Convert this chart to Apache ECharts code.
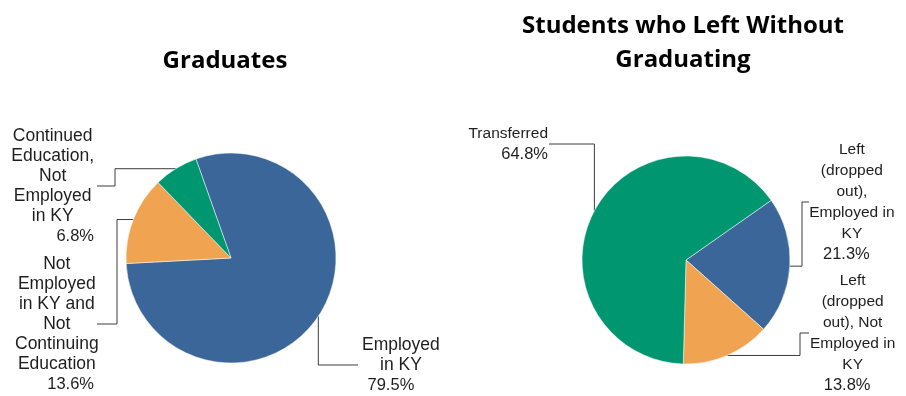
<!DOCTYPE html>
<html>
<head>
<meta charset="utf-8">
<script src="https://cdn.jsdelivr.net/npm/echarts@6/dist/echarts.min.js"></script>
<style>
  html, body { margin: 0; padding: 0; background: #ffffff; }
  #chart { width: 906px; height: 396px; }
</style>
</head>
<body>
<div id="chart"></div>
<script>
// ---- data ----
const titles = ['Graduates', 'Students who Left Without\nGraduating'];

const gradCategories = [
  'Employed\nin KY',
  'Not\nEmployed\nin KY and\nNot\nContinuing\nEducation',
  'Continued\nEducation,\nNot\nEmployed\nin KY'
];
const gradValues = [79.5, 13.6, 6.8];

const leftCategories = [
  'Left\n(dropped\nout),\nEmployed in\nKY',
  'Left\n(dropped\nout), Not\nEmployed in\nKY',
  'Transferred'
];
const leftValues = [21.3, 13.8, 64.8];

// ---- styling ----
const BLUE = '#3a6699';
const ORANGE = '#f0a452';
const GREEN = '#009670';
const gradColors = [BLUE, ORANGE, GREEN];
const leftColors = [BLUE, ORANGE, GREEN];

const SANS = "'Liberation Sans', Arial, sans-serif";
const TEXT = '#1e1e1e';
const LINE = '#3c3c3c';
const BIG = 17.5;   // category text of the graduates pie
const MID = 15.5;   // category text of the second pie
const PCT = 16.5;   // percentages

// label placement: where each label block sits and how its leader line bends
// route 'hvh': horizontal to elbowX, vertical to label y, horizontal to endX
// route 'vh' : vertical to label y, horizontal to endX
const gradPlacement = [
  { x: 362, y: 365, align: 'left',  route: 'vh',  endX: 358 },
  { x: 94,  y: 324, align: 'right', route: 'hvh', elbowX: 117, endX: 97 },
  { x: 94,  y: 186, align: 'right', route: 'hvh', elbowX: 115, endX: 97 }
];
const leftPlacement = [
  { x: 816, y: 202, align: 'left',  route: 'hvh', elbowX: 802, endX: 809 },
  { x: 810, y: 333, align: 'left',  route: 'hvh', elbowX: 800, endX: 809 },
  { x: 548, y: 144, align: 'right', route: 'vh',  endX: 549 }
];

function edgePoint(center, radius, values, startAngle, idx) {
  // mid-angle of slice idx on the outer rim (clockwise from startAngle)
  const total = values.reduce((a, b) => a + b, 0);
  let acc = 0;
  for (let i = 0; i < idx; i++) acc += values[i];
  const mid = startAngle - (acc + values[idx] / 2) / total * 360;
  const r = mid * Math.PI / 180;
  return [center[0] + radius * Math.cos(r), center[1] - radius * Math.sin(r)];
}

function makeLayout(placement, center, radius, values, startAngle) {
  return function (p) {
    const s = placement[p.dataIndex];
    const start = (p.labelLinePoints && p.labelLinePoints[0]) ||
      edgePoint(center, radius, values, startAngle, p.dataIndex);
    let pts;
    if (s.route === 'hvh') {
      pts = [start, [s.elbowX, start[1]], [s.elbowX, s.y], [s.endX, s.y]];
    } else {
      pts = [start, [start[0], s.y], [s.endX, s.y]];
    }
    return {
      x: s.x, y: s.y,
      align: s.align, verticalAlign: 'middle',
      labelLinePoints: pts
    };
  };
}

function richFor(catSize, lh) {
  return {
    c: { fontFamily: SANS, fontSize: catSize, lineHeight: lh, color: TEXT, align: 'center' },
    r: { fontFamily: SANS, fontSize: PCT, lineHeight: lh, color: TEXT, align: 'right' },
    m: { fontFamily: SANS, fontSize: PCT, lineHeight: lh, color: TEXT, align: 'center', padding: [0, 20, 0, 0] },
    n: { fontFamily: SANS, fontSize: PCT, lineHeight: lh, color: TEXT, align: 'center', padding: [0, 11, 0, 0] }
  };
}

function buildData(names, values, colors) {
  return names.map((n, i) => ({ name: n, value: values[i], itemStyle: { color: colors[i] } }));
}

const gradCenter = [231, 258], gradRadius = 105, gradStart = 109.5;
const leftCenter = [686, 260], leftRadius = 104, leftStart = 35;

const titleStyle = {
  fontFamily: "'Open Sans', sans-serif", fontWeight: 'bold',
  fontSize: 24, lineHeight: 34, color: '#000'
};

const chart = echarts.init(document.getElementById('chart'), null, { renderer: 'canvas' });

chart.setOption({
  backgroundColor: '#ffffff',
  animation: false,
  title: [
    { text: titles[0], left: 220, top: 39, textAlign: 'center', textStyle: titleStyle },
    { text: titles[1], left: 678, top: 4, textAlign: 'center', textStyle: titleStyle }
  ],
  series: [
    {
      type: 'pie',
      center: gradCenter,
      radius: gradRadius,
      startAngle: gradStart,
      clockwise: true,
      data: buildData(gradCategories, gradValues, gradColors),
      itemStyle: { borderColor: '#ffffff', borderWidth: 0.5 },
      label: {
        show: true, position: 'outside', overflow: 'none',
        formatter: function (p) {
          const lines = p.name.split('\n').map(l => '{c|' + l + '}').join('\n');
          const tag = p.dataIndex === 0 ? 'm' : 'r';
          return lines + '\n{' + tag + '|' + p.value.toFixed(1) + '%}';
        },
        rich: richFor(BIG, 20)
      },
      labelLine: { show: true, lineStyle: { color: LINE, width: 1 } },
      labelLayout: makeLayout(gradPlacement, gradCenter, gradRadius, gradValues, gradStart),
      emphasis: { disabled: true }
    },
    {
      type: 'pie',
      center: leftCenter,
      radius: leftRadius,
      startAngle: leftStart,
      clockwise: true,
      data: buildData(leftCategories, leftValues, leftColors),
      itemStyle: { borderColor: '#ffffff', borderWidth: 0.5 },
      label: {
        show: true, position: 'outside', overflow: 'none',
        formatter: function (p) {
          const lines = p.name.split('\n').map(l => '{c|' + l + '}').join('\n');
          const tag = p.dataIndex === 2 ? 'r' : 'n';
          return lines + '\n{' + tag + '|' + p.value.toFixed(1) + '%}';
        },
        rich: richFor(MID, 21)
      },
      labelLine: { show: true, lineStyle: { color: LINE, width: 1 } },
      labelLayout: makeLayout(leftPlacement, leftCenter, leftRadius, leftValues, leftStart),
      emphasis: { disabled: true }
    }
  ]
});
</script>
</body>
</html>
